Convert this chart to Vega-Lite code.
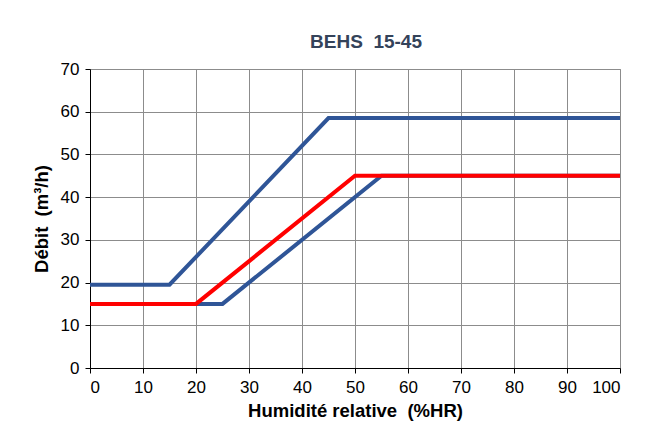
{
  "$schema": "https://vega.github.io/schema/vega-lite/v6.json",
  "width": 530,
  "height": 299,
  "autosize": "none",
  "padding": {"left": 90, "top": 69, "right": 37, "bottom": 78},
  "background": "white",
  "title": {
    "text": "BEHS \u00a015-45",
    "font": "Liberation Sans",
    "fontSize": 19,
    "fontWeight": "bold",
    "color": "#34435A",
    "anchor": "middle",
    "offset": 8,
    "dx": 11
  },
  "data": {
    "values": [
      {"hr": 0, "debit": 19.5, "serie": "max", "o": 1},
      {"hr": 15, "debit": 19.5, "serie": "max", "o": 2},
      {"hr": 45, "debit": 58.5, "serie": "max", "o": 3},
      {"hr": 100, "debit": 58.5, "serie": "max", "o": 4},
      {"hr": 20, "debit": 15, "serie": "min", "o": 1},
      {"hr": 25, "debit": 15, "serie": "min", "o": 2},
      {"hr": 55, "debit": 45, "serie": "min", "o": 3},
      {"hr": 100, "debit": 45, "serie": "min", "o": 4},
      {"hr": 0, "debit": 15, "serie": "nominal", "o": 1},
      {"hr": 20, "debit": 15, "serie": "nominal", "o": 2},
      {"hr": 50, "debit": 45, "serie": "nominal", "o": 3},
      {"hr": 100, "debit": 45, "serie": "nominal", "o": 4}
    ]
  },
  "mark": {"type": "line", "strokeWidth": 4, "strokeJoin": "miter", "clip": false},
  "encoding": {
    "x": {
      "field": "hr",
      "type": "quantitative",
      "scale": {"domain": [0, 100], "nice": false},
      "axis": {
        "title": "Humidité relative \u00a0(%HR)",
        "values": [0, 10, 20, 30, 40, 50, 60, 70, 80, 90, 100],
        "labelFont": "Liberation Sans",
        "labelFontSize": 17,
        "labelColor": "#000000",
        "labelPadding": 6,
        "titleFont": "Liberation Sans",
        "titleFontSize": 18.5,
        "titleFontWeight": "bold",
        "titleColor": "#000000",
        "titlePadding": 6,
        "domainColor": "#000000",
        "tickColor": "#000000",
        "tickSize": 5,
        "gridColor": "#8c8c8c",
        "gridWidth": 1
      }
    },
    "y": {
      "field": "debit",
      "type": "quantitative",
      "scale": {"domain": [0, 70], "nice": false},
      "axis": {
        "title": "Débit \u00a0(m³/h)",
        "values": [0, 10, 20, 30, 40, 50, 60, 70],
        "labelFont": "Liberation Sans",
        "labelFontSize": 17,
        "labelColor": "#000000",
        "labelPadding": 6,
        "titleFont": "Liberation Sans",
        "titleFontSize": 18.5,
        "titleFontWeight": "bold",
        "titleColor": "#000000",
        "titlePadding": 9,
        "domainColor": "#000000",
        "tickColor": "#000000",
        "tickSize": 5,
        "gridColor": "#8c8c8c",
        "gridWidth": 1
      }
    },
    "color": {
      "field": "serie",
      "type": "nominal",
      "scale": {"domain": ["max", "min", "nominal"], "range": ["#2F5597", "#2F5597", "#FF0000"]},
      "legend": null
    },
    "order": {"field": "o", "type": "quantitative"}
  },
  "config": {
    "view": {"stroke": "#8c8c8c"}
  }
}
